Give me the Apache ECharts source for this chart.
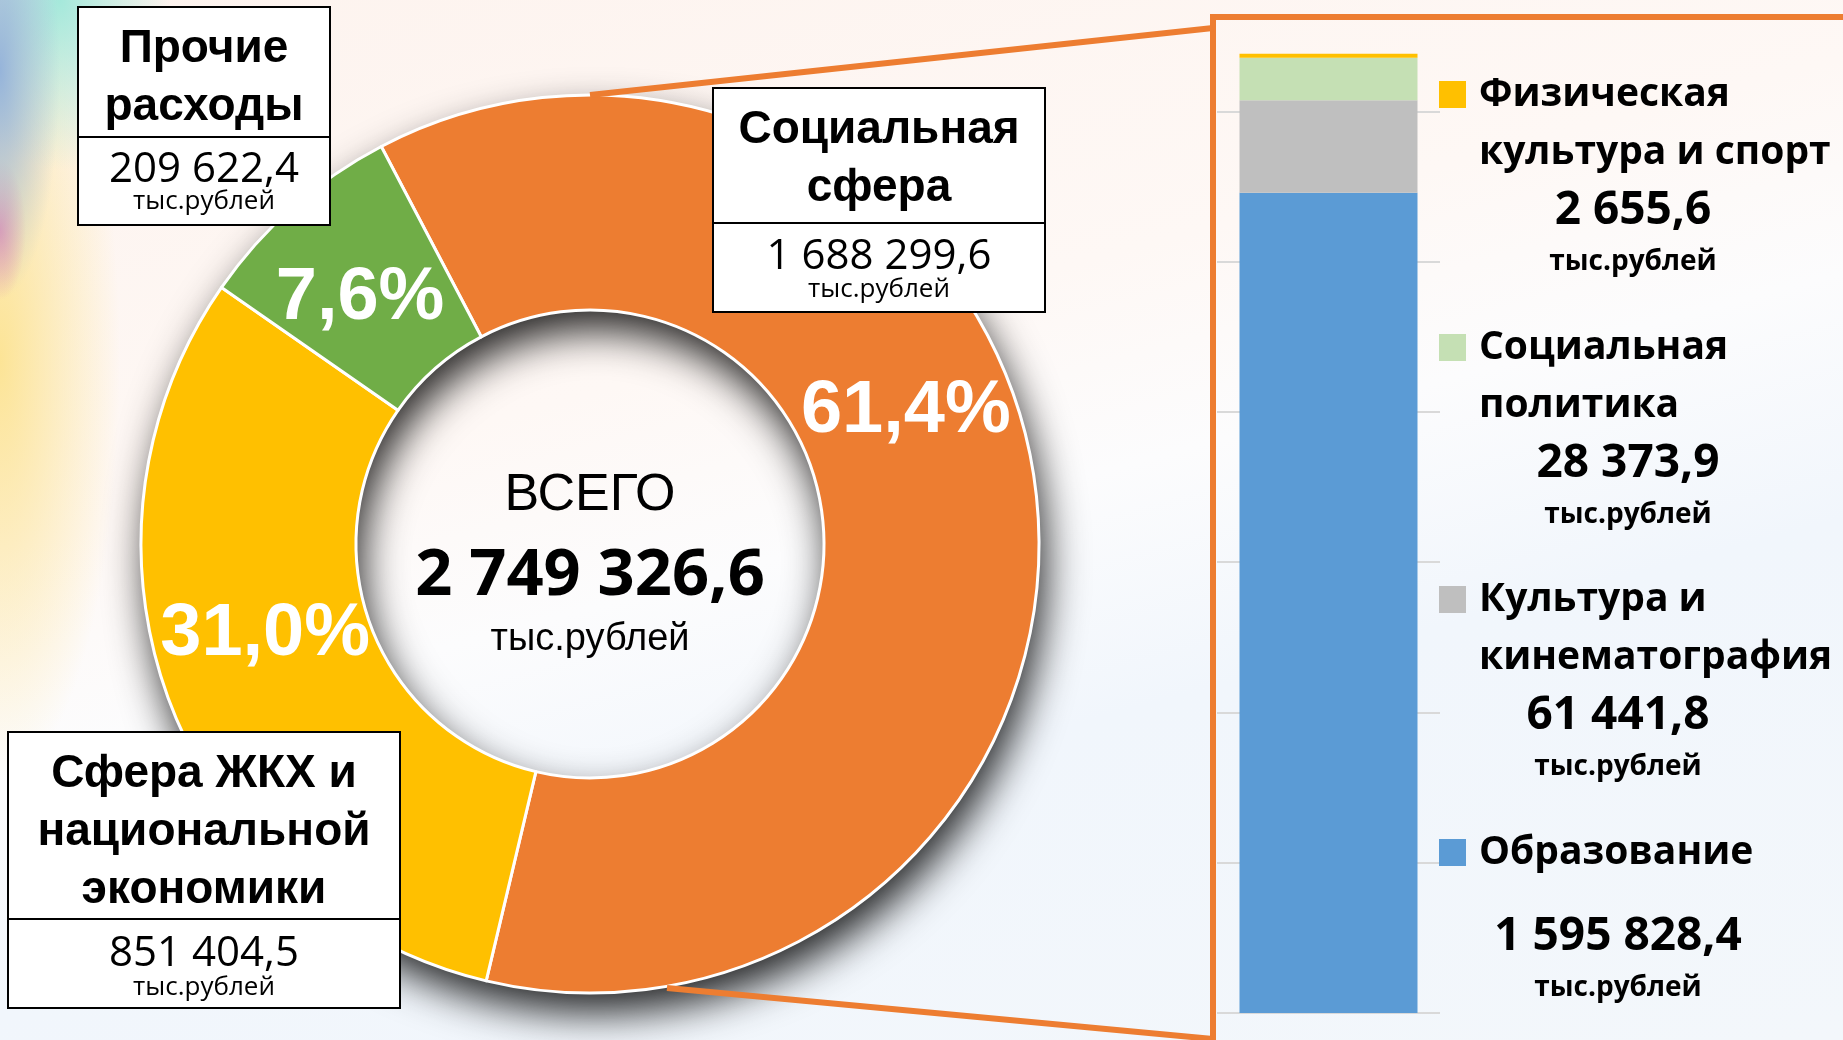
<!DOCTYPE html>
<html>
<head>
<meta charset="utf-8">
<title>Структура расходов</title>
<script src="https://cdn.jsdelivr.net/npm/echarts@6.0.0/dist/echarts.min.js"></script>
<style>
  html, body { margin: 0; padding: 0; }
  body {
    width: 1843px; height: 1040px; overflow: hidden;
    background:
      radial-gradient(ellipse 60px 230px at 0 70px, rgba(150,180,218,1), rgba(150,180,218,0) 100%),
      radial-gradient(ellipse 110px 170px at 60px 0, rgba(160,232,218,0.95), rgba(160,232,218,0) 100%),
      radial-gradient(ellipse 26px 70px at 0 230px, rgba(240,140,172,0.9), rgba(240,140,172,0) 100%),
      radial-gradient(ellipse 120px 420px at 0 360px, rgba(252,226,140,0.9), rgba(252,226,140,0) 100%),
      linear-gradient(165deg, #fdf3ee 0%, #fef8f5 36%, #fcfcfd 50%, #f1f6fc 66%, #f3f7fb 100%);
  }
  #chart { width: 1843px; height: 1040px; }
</style>
</head>
<body>
<div id="chart"></div>
<script>
// структура расходов, тыс. рублей
const sectorNames = ['Социальная сфера', 'Сфера ЖКХ и национальной экономики', 'Прочие расходы']
const sectorTitles = ['Социальная\nсфера', 'Сфера ЖКХ и\nнациональной\nэкономики', 'Прочие\nрасходы']
const sectorValues = [1688299.6, 851404.5, 209622.4]
const sectorColors = ['#ed7d31', '#ffc000', '#70ad47']
const totalLabel = '2 749 326,6'
const unitLabel = 'тыс.рублей'

// социальная сфера по разделам (снизу вверх)
const socialNames = ['Образование', 'Культура и кинематография', 'Социальная политика', 'Физическая культура и спорт']
const socialLegend = [['Образование'], ['Культура и', 'кинематография'], ['Социальная', 'политика'], ['Физическая', 'культура и спорт']]
const socialValues = [1595828.4, 61441.8, 28373.9, 2655.6]
const socialColors = ['#5b9bd5', '#bfbfbf', '#c5e0b4', '#ffc000']

// шкала столбца начинается не с нуля
const barAxisMin = 1050000
const barAxisMax = 1750000
const gridStep = 100000

// геометрия
const cx = 590, cy = 544, r0 = 234, r1 = 449
const labelShift = [[-26, -89], [-3, -32], [-2, 13]]
const boxLayout = [
  { x: 713, y: 88, w: 332, h1: 135, h2: 89, tY: 159, vY: 257, uY: 290 },
  { x: 8, y: 732, w: 392, h1: 187, h2: 89, tY: 832, vY: 954, uY: 988 },
  { x: 78, y: 7, w: 252, h1: 130, h2: 88, tY: 78, vY: 170, uY: 202 }
]
const legendIconY = [850, 597, 345, 92]
const legendMidW = [278, 278, 298, 308]

function fmt (v) {
  const p = v.toFixed(1).split('.')
  return p[0].replace(/\B(?=(\d{3})+(?!\d))/g, ' ') + ',' + p[1]
}

function legendText (i) {
  const lines = socialLegend[i].map(s => '{n|' + s + '}')
  if (lines.length === 1) lines.push('{s| }')
  lines.push('{v|' + fmt(socialValues[i]) + '}')
  lines.push('{u|' + unitLabel + '}')
  return lines.join('\n')
}

const legendRich = {
  n: { fontFamily: 'Open Sans', fontWeight: 'bold', fontSize: 39, lineHeight: 58, color: '#000' },
  s: { fontSize: 10, lineHeight: 26 },
  v: { fontFamily: 'Open Sans', fontWeight: 'bold', fontSize: 46, lineHeight: 58, color: '#000', align: 'center' },
  u: { fontFamily: 'Open Sans', fontWeight: 'bold', fontSize: 28, lineHeight: 46, color: '#000', align: 'center' }
}

const legend = socialNames.map((name, i) => ({
  data: [{ name: name, icon: 'rect' }],
  left: 1439,
  top: legendIconY[i] - 17,
  padding: 0,
  itemWidth: 27,
  itemHeight: 27,
  selectedMode: false,
  formatter: () => legendText(i),
  textStyle: { width: legendMidW[i], height: 58, padding: [0, 0, 0, 8], overflow: 'none', rich: legendRich }
}))

const graphic = []
// рамка выноски
graphic.push({ type: 'rect', z: 50, shape: { x: 1213, y: 17, width: 700, height: 1100 }, style: { fill: 'none', stroke: '#ed7d31', lineWidth: 6 } })
graphic.push({ type: 'line', z: 50, shape: { x1: cx, y1: cy - r1, x2: 1213, y2: 28 }, style: { stroke: '#ed7d31', lineWidth: 6 } })
graphic.push({ type: 'line', z: 50, shape: { x1: 667, y1: 988, x2: 1213, y2: 1039 }, style: { stroke: '#ed7d31', lineWidth: 6 } })

// подписи-таблички у секторов
sectorTitles.forEach((t, i) => {
  const b = boxLayout[i]
  graphic.push({ type: 'rect', z: 60, shape: { x: b.x, y: b.y, width: b.w, height: b.h1 }, style: { fill: '#fff', stroke: '#000', lineWidth: 2 } })
  graphic.push({ type: 'rect', z: 60, shape: { x: b.x, y: b.y + b.h1, width: b.w, height: b.h2 }, style: { fill: '#fff', stroke: '#000', lineWidth: 2 } })
  graphic.push({ type: 'text', z: 61, x: b.x + b.w / 2, y: b.tY, style: { text: t, fontFamily: 'Liberation Sans', fontWeight: 'bold', fontSize: 46, lineHeight: 58, align: 'center', verticalAlign: 'middle', fill: '#000' } })
  graphic.push({ type: 'text', z: 61, x: b.x + b.w / 2, y: b.vY, style: { text: fmt(sectorValues[i]), fontFamily: 'Open Sans', fontSize: 42, align: 'center', verticalAlign: 'middle', fill: '#000' } })
  graphic.push({ type: 'text', z: 61, x: b.x + b.w / 2, y: b.uY, style: { text: unitLabel, fontFamily: 'Open Sans', fontSize: 26, align: 'center', verticalAlign: 'middle', fill: '#000' } })
})

// итог в центре кольца
graphic.push({ type: 'text', z: 61, x: cx, y: 496, style: { text: 'ВСЕГО', fontFamily: 'Liberation Sans', fontSize: 52, align: 'center', verticalAlign: 'middle', fill: '#000' } })
graphic.push({ type: 'text', z: 61, x: cx, y: 576, style: { text: totalLabel, fontFamily: 'Open Sans', fontWeight: 'bold', fontSize: 65, align: 'center', verticalAlign: 'middle', fill: '#000' } })
graphic.push({ type: 'text', z: 61, x: cx, y: 640, style: { text: unitLabel, fontFamily: 'Liberation Sans', fontSize: 38, align: 'center', verticalAlign: 'middle', fill: '#000' } })

const chart = echarts.init(document.getElementById('chart'))
const option = {
  backgroundColor: 'transparent',
  animation: false,
  legend: legend,
  grid: { left: 1217, top: -39, width: 223, height: 1052, outerBoundsMode: 'none', containLabel: false },
  xAxis: { type: 'category', data: [sectorNames[0]], show: false },
  yAxis: [
    { type: 'value', min: barAxisMin, max: barAxisMax, axisLine: { show: false }, axisTick: { show: false }, axisLabel: { show: false }, splitLine: { show: false } },
    { type: 'value', min: 0, max: barAxisMax - barAxisMin, interval: gridStep, axisLine: { show: false }, axisTick: { show: false }, axisLabel: { show: false }, splitLine: { show: true, lineStyle: { color: '#d9d9d9', width: 2 } } }
  ],
  series: [
    // тень под кольцом
    {
      type: 'pie',
      silent: true,
      z: 1,
      center: [cx, cy],
      radius: [r0, r1],
      label: { show: false },
      data: [{ value: 1, name: 'shadow' }],
      itemStyle: { color: '#ed7d31', shadowBlur: 40, shadowColor: 'rgba(0,0,0,0.85)', shadowOffsetX: 6, shadowOffsetY: 20 }
    },
    {
      type: 'pie',
      z: 2,
      center: [cx, cy],
      radius: [r0, r1],
      startAngle: 117.7,
      clockwise: true,
      percentPrecision: 1,
      avoidLabelOverlap: false,
      itemStyle: { borderColor: '#fff', borderWidth: 3 },
      label: {
        show: true,
        position: 'inside',
        formatter: p => p.percent.toFixed(1).replace('.', ',') + '%',
        color: '#fff',
        fontFamily: 'Liberation Sans',
        fontWeight: 'bold',
        fontSize: 74
      },
      labelLayout: p => ({ dx: labelShift[p.dataIndex][0], dy: labelShift[p.dataIndex][1] }),
      labelLine: { show: false },
      data: sectorNames.map((n, i) => ({ name: n, value: sectorValues[i], itemStyle: { color: sectorColors[i] } }))
    }
  ].concat(socialNames.map((n, i) => ({
    name: n,
    type: 'bar',
    stack: 'social',
    yAxisIndex: 0,
    barWidth: 178,
    clip: true,
    itemStyle: { color: socialColors[i] },
    data: [socialValues[i]]
  }))),
  graphic: graphic
}
chart.setOption(option)
</script>
</body>
</html>
